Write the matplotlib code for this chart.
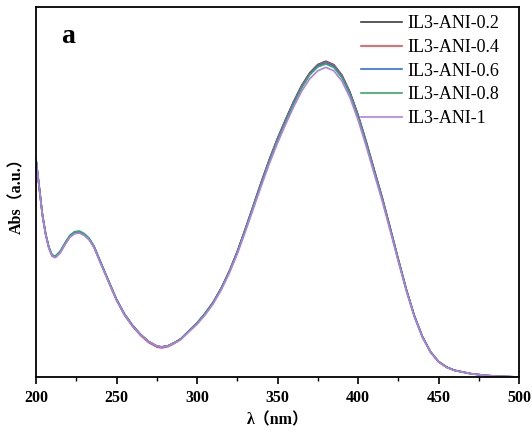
import numpy as np
import matplotlib
matplotlib.use('Agg')
import matplotlib.pyplot as plt
from matplotlib.ticker import MultipleLocator

wl = [200, 202, 204, 206, 208, 210, 212, 215, 218, 221, 224, 227, 230, 233, 236, 240,
      245, 250, 255, 260, 265, 270, 275, 278, 282, 286, 290, 295, 300, 305, 310, 315,
      320, 325, 330, 335, 340, 345, 350, 355, 360, 365, 370, 375, 380, 385, 390, 395,
      400, 405, 410, 415, 420, 425, 430, 435, 440, 445, 450, 455, 460, 470, 480, 490, 500]

abs_02 = [1.175, 1.025, 0.875, 0.772, 0.699, 0.656, 0.649, 0.675, 0.720, 0.760, 0.780, 0.783,
          0.770, 0.746, 0.705, 0.622, 0.520, 0.420, 0.340, 0.279, 0.230, 0.192, 0.168, 0.163,
          0.169, 0.186, 0.207, 0.250, 0.292, 0.344, 0.404, 0.480, 0.571, 0.678, 0.801, 0.928,
          1.056, 1.178, 1.290, 1.392, 1.489, 1.576, 1.644, 1.689, 1.707, 1.688, 1.632, 1.540,
          1.418, 1.275, 1.122, 0.971, 0.806, 0.637, 0.474, 0.331, 0.219, 0.137, 0.084, 0.054,
          0.036, 0.018, 0.008, 0.003, 0.000]
abs_04 = [1.174, 1.024, 0.874, 0.771, 0.698, 0.655, 0.648, 0.673, 0.718, 0.758, 0.778, 0.781,
          0.768, 0.744, 0.703, 0.619, 0.516, 0.415, 0.334, 0.273, 0.224, 0.186, 0.162, 0.157,
          0.164, 0.182, 0.204, 0.247, 0.290, 0.342, 0.403, 0.479, 0.570, 0.677, 0.799, 0.926,
          1.054, 1.176, 1.288, 1.389, 1.486, 1.573, 1.641, 1.686, 1.704, 1.685, 1.629, 1.537,
          1.415, 1.272, 1.120, 0.969, 0.804, 0.636, 0.473, 0.330, 0.218, 0.136, 0.083, 0.053,
          0.036, 0.018, 0.008, 0.003, 0.000]
abs_06 = [1.176, 1.026, 0.876, 0.773, 0.700, 0.658, 0.651, 0.677, 0.722, 0.763, 0.783, 0.786,
          0.772, 0.748, 0.706, 0.623, 0.520, 0.419, 0.338, 0.277, 0.228, 0.190, 0.166, 0.162,
          0.168, 0.185, 0.206, 0.249, 0.291, 0.343, 0.402, 0.478, 0.568, 0.675, 0.797, 0.924,
          1.051, 1.172, 1.284, 1.385, 1.482, 1.568, 1.637, 1.683, 1.699, 1.680, 1.624, 1.533,
          1.411, 1.269, 1.117, 0.966, 0.802, 0.634, 0.472, 0.330, 0.217, 0.136, 0.083, 0.053,
          0.036, 0.018, 0.008, 0.003, 0.000]
abs_08 = [1.178, 1.028, 0.878, 0.775, 0.702, 0.660, 0.654, 0.680, 0.726, 0.766, 0.786, 0.789,
          0.775, 0.750, 0.708, 0.624, 0.521, 0.420, 0.339, 0.278, 0.229, 0.191, 0.167, 0.163,
          0.168, 0.185, 0.206, 0.248, 0.290, 0.341, 0.400, 0.476, 0.566, 0.672, 0.794, 0.920,
          1.046, 1.168, 1.279, 1.379, 1.476, 1.563, 1.633, 1.676, 1.692, 1.673, 1.618, 1.527,
          1.405, 1.264, 1.112, 0.963, 0.799, 0.632, 0.470, 0.329, 0.216, 0.135, 0.083, 0.053,
          0.035, 0.018, 0.008, 0.003, 0.000]
abs_1 = [1.173, 1.020, 0.870, 0.768, 0.695, 0.652, 0.645, 0.670, 0.715, 0.755, 0.775, 0.778,
         0.765, 0.741, 0.700, 0.616, 0.515, 0.415, 0.335, 0.275, 0.227, 0.190, 0.167, 0.162,
         0.167, 0.183, 0.203, 0.245, 0.285, 0.335, 0.395, 0.470, 0.560, 0.665, 0.785, 0.910,
         1.035, 1.155, 1.265, 1.365, 1.460, 1.545, 1.612, 1.655, 1.674, 1.655, 1.600, 1.510,
         1.390, 1.250, 1.100, 0.952, 0.790, 0.625, 0.465, 0.325, 0.215, 0.135, 0.082, 0.052,
         0.035, 0.018, 0.008, 0.003, 0.000]

labels = ['IL3-ANI-0.2', 'IL3-ANI-0.4', 'IL3-ANI-0.6', 'IL3-ANI-0.8', 'IL3-ANI-1']
colors = ['#3c3c3c', '#ee4a4f', '#2f72dc', '#38a868', '#b27ee6']

fig = plt.figure(figsize=(5.32, 4.33), dpi=100)
ax = fig.add_axes([0.0677, 0.1293, 0.9079, 0.8545])

for y, lab, c in zip([abs_02, abs_04, abs_06, abs_08, abs_1], labels, colors):
    ax.plot(wl, y, c=c, lw=1.2, label=lab)

ax.set_xlim(200, 500)
ax.set_ylim(0, 2.0)
ax.xaxis.set_major_locator(MultipleLocator(50))
ax.xaxis.set_minor_locator(MultipleLocator(25))
ax.set_yticks([])
ax.tick_params(axis='x', which='major', length=5, width=1.2, direction='out', pad=4)
ax.tick_params(axis='x', which='minor', length=3, width=1.0, direction='out')
for s in ax.spines.values():
    s.set_linewidth(1.3)

for t in ax.get_xticklabels():
    t.set_fontfamily('Liberation Serif')
    t.set_fontweight('bold')
    t.set_fontsize(11.5)

fam = ['Liberation Serif', 'Noto Sans CJK SC']
ax.set_xlabel('λ（nm）', family=fam, fontweight='bold', fontsize=11.5, labelpad=5)
ax.set_ylabel('Abs（a.u.）', family=fam, fontweight='bold', fontsize=11.5, labelpad=8)

ax.text(0.052, 0.92, 'a', transform=ax.transAxes, family='Liberation Serif',
        fontweight='bold', fontsize=20, ha='left', va='center')

ax.legend(loc='upper right', bbox_to_anchor=(0.986, 1.012), frameon=False,
          prop={'family': 'Liberation Serif', 'size': 13}, handlelength=2.3,
          handletextpad=0.3, labelspacing=0.37, borderaxespad=0.3)

fig.savefig('out.png', dpi=100)
